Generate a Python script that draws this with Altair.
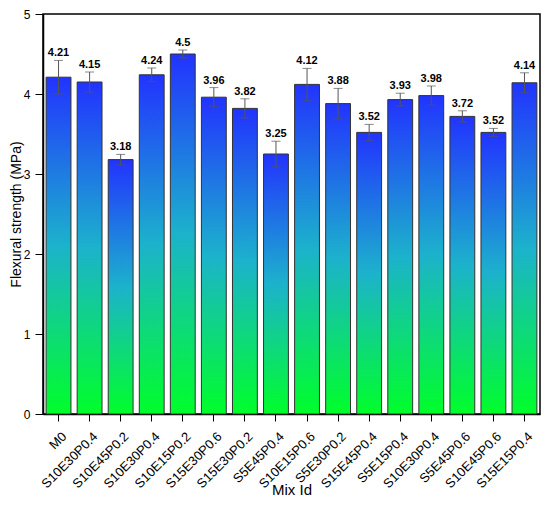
import json
import altair as alt
import pandas as pd

mix_ids = ["M0", "S10E30P0.4", "S10E45P0.2", "S10E30P0.4", "S10E15P0.2", "S15E30P0.6",
           "S15E30P0.2", "S5E45P0.4", "S10E15P0.6", "S5E30P0.2", "S15E45P0.4", "S5E15P0.4",
           "S10E30P0.4", "S5E45P0.6", "S10E45P0.6", "S15E15P0.4"]
strength = [4.21, 4.15, 3.18, 4.24, 4.5, 3.96, 3.82, 3.25, 4.12, 3.88, 3.52, 3.93,
            3.98, 3.72, 3.52, 4.14]
error = [0.21, 0.125, 0.065, 0.085, 0.05, 0.12, 0.12, 0.16, 0.2, 0.19, 0.1, 0.08,
         0.12, 0.07, 0.05, 0.125]

df = pd.DataFrame({
    "idx": list(range(len(mix_ids))),
    "mix": mix_ids,
    "value": strength,
    "err": error,
})
df["lo"] = df["value"] - df["err"]
df["hi"] = df["value"] + df["err"]
df["label"] = [str(v) for v in strength]

label_expr = json.dumps(mix_ids) + "[datum.value]"

x = alt.X("idx:O",
          scale=alt.Scale(paddingInner=0.2, paddingOuter=0.1),
          axis=alt.Axis(title="Mix Id", labelExpr=label_expr, labelAngle=-45,
                        labelAlign="right", labelBaseline="middle", labelFontSize=13,
                        tickSize=7, labelPadding=13, labelOffset=6, titleFontSize=15,
                        titleFontWeight="normal", titleY=80, titleBaseline="alphabetic"))
y = alt.Y("value:Q",
          scale=alt.Scale(domain=[0, 5], nice=False),
          axis=alt.Axis(title="Flexural strength (MPa)", values=[0, 1, 2, 3, 4, 5],
                        format="d", grid=False, tickSize=8, labelPadding=5,
                        labelFontSize=12, titleFontSize=14,
                        titleFontWeight="normal", titleX=-27, titleBaseline="middle"))

grad = alt.Gradient(
    gradient="linear",
    stops=[alt.GradientStop(color="#2233ff", offset=0),
           alt.GradientStop(color="#1cb2cc", offset=0.5),
           alt.GradientStop(color="#00ff2a", offset=1)],
    x1=0, x2=0, y1=0, y2=1,
)

base = alt.Chart(df)
bars = base.mark_bar(color=grad, stroke="#333333", strokeWidth=1).encode(x=x, y=y)
rules = base.mark_rule(color="#555555", strokeWidth=1).encode(x=x, y="lo:Q", y2="hi:Q")
cap_lo = base.mark_tick(color="#555555", thickness=1, size=9).encode(x=x, y="lo:Q")
cap_hi = base.mark_tick(color="#555555", thickness=1, size=9).encode(x=x, y="hi:Q")
texts = base.mark_text(fontWeight="bold", fontSize=11, baseline="bottom", dy=-2,
                       color="black").encode(x=x, y="hi:Q", text="label:N")

chart = alt.layer(bars, rules, cap_lo, cap_hi, texts).properties(
    width=497, height=400,
    autosize=alt.AutoSizeParams(type="none"),
    padding={"left": 35, "top": 6, "right": 2, "bottom": 84},
).configure_view(
    stroke="black", strokeWidth=1.5
).configure_axis(
    domainColor="black", tickColor="black", labelColor="black", titleColor="black",
    labelFont="Liberation Sans", titleFont="Liberation Sans", domainWidth=1.5,
)

chart.save("out.html", embed_options={"renderer": "svg", "actions": False})
